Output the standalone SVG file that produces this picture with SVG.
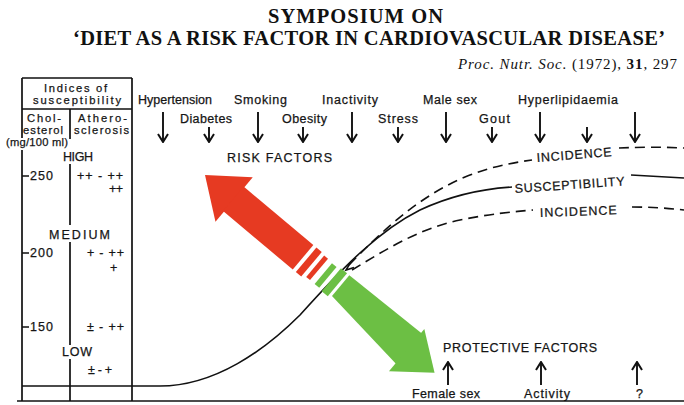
<svg xmlns="http://www.w3.org/2000/svg" width="684" height="405" viewBox="0 0 684 405">
<defs>
<style>
.t{font-family:"Liberation Serif","Times New Roman",serif;fill:#111}
.s{font-family:"Liberation Sans",Arial,sans-serif;fill:#151515;font-size:12.5px;stroke:#151515;stroke-width:0.25}
.k{font-size:11.2px}
.ln{stroke:#111;stroke-width:1.7;fill:none}
.ar{stroke:#111;stroke-width:1.9;fill:none;marker-end:url(#ah)}
.cv{stroke:#111;stroke-width:1.6;fill:none}
.ds{stroke:#111;stroke-width:1.6;fill:none;stroke-dasharray:10 6}
.red{fill:#e63a22}
.grn{fill:#6cbf44}
</style>
<marker id="ah" viewBox="0 0 10 12" refX="9" refY="6" markerWidth="10" markerHeight="12" orient="auto" markerUnits="userSpaceOnUse">
<path d="M1,1 L9,6 L1,11" fill="none" stroke="#111" stroke-width="2"/>
</marker>
</defs>
<rect width="684" height="405" fill="#fff"/>

<g id="title">
<text class="t" x="268" y="23" font-size="20.5" font-weight="bold" textLength="175">SYMPOSIUM ON</text>
<text class="t" x="73" y="45" font-size="20.5" font-weight="bold" textLength="592">‘DIET AS A RISK FACTOR IN CARDIOVASCULAR DISEASE’</text>
<text class="t" x="458" y="69" font-size="15" textLength="219"><tspan font-style="italic">Proc. Nutr. Soc.</tspan> (1972), <tspan font-weight="bold">31</tspan>, 297</text>
</g>

<g id="table">
<path class="ln" d="M22,78 H132 M22,109 H132 M22,78 V138 M22,150 V401 M132,78 V401 M70,109 V139 M70,164 V225 M70,242 V345 M70,359 V401 M22,386 H132 M22,176 H29 M22,253 H29 M22,327 H29"/>
<text class="s k" x="44" y="92" textLength="63">Indices of</text>
<text class="s k" x="33" y="104" textLength="88">susceptibility</text>
<text class="s k" x="27" y="122" textLength="34">Chol-</text>
<text class="s k" x="23" y="134" textLength="40">esterol</text>
<text class="s k" x="78" y="122" textLength="49">Athero-</text>
<text class="s k" x="74" y="134" textLength="55">sclerosis</text>
<text class="s k" x="6" y="146" textLength="62">(mg/100 ml)</text>
<text class="s" x="63" y="161" textLength="30">HIGH</text>
<text class="s" x="30" y="180" textLength="23">250</text>
<text class="s" x="77" y="180" textLength="46">++ - ++</text>
<text class="s" x="109" y="193" textLength="14">++</text>
<text class="s" x="49" y="239" textLength="61">MEDIUM</text>
<text class="s" x="30" y="257" textLength="23">200</text>
<text class="s" x="87" y="257" textLength="37">+ - ++</text>
<text class="s" x="110" y="272">+</text>
<text class="s" x="30" y="331" textLength="23">150</text>
<text class="s" x="87" y="331" textLength="37">± - ++</text>
<text class="s" x="62" y="356" textLength="30">LOW</text>
<text class="s" x="88" y="374" textLength="24">± - +</text>
</g>

<g id="risk-factors">
<text class="s" x="138" y="104" textLength="74">Hypertension</text>
<text class="s" x="234" y="104" textLength="53">Smoking</text>
<text class="s" x="322" y="104" textLength="56">Inactivity</text>
<text class="s" x="423" y="104" textLength="54">Male sex</text>
<text class="s" x="518" y="104" textLength="100">Hyperlipidaemia</text>
<text class="s" x="180" y="123" textLength="52">Diabetes</text>
<text class="s" x="282" y="123" textLength="45">Obesity</text>
<text class="s" x="378" y="123" textLength="40">Stress</text>
<text class="s" x="479" y="123" textLength="31">Gout</text>
<text class="s" x="227" y="162" textLength="105">RISK FACTORS</text>
</g>

<g id="protective-factors">
<text class="s" x="443" y="352" textLength="154">PROTECTIVE FACTORS</text>
<text class="s" x="412" y="398" textLength="68">Female sex</text>
<text class="s" x="524" y="398" textLength="46">Activity</text>
<text class="s" x="636" y="398">?</text>
</g>

<g id="curve-labels">
<text class="s" x="537" y="162" textLength="75" transform="rotate(-4.5 537 162)">INCIDENCE</text>
<text class="s" x="515" y="193" textLength="110" transform="rotate(-4 515 193)">SUSCEPTIBILITY</text>
<text class="s" x="540" y="217" textLength="77" transform="rotate(-2 540 217)">INCIDENCE</text>
</g>

<g id="connectors">
<path class="ar" d="M163,112 V142"/>
<path class="ar" d="M209,127 V142"/>
<path class="ar" d="M258,112 V142"/>
<path class="ar" d="M303,127 V142"/>
<path class="ar" d="M352,112 V142"/>
<path class="ar" d="M398,127 V142"/>
<path class="ar" d="M446,112 V142"/>
<path class="ar" d="M492,127 V142"/>
<path class="ar" d="M540,112 V142"/>
<path class="ar" d="M587,127 V142"/>
<path class="ar" d="M635,112 V142"/>
<path class="ar" d="M448,385 V362"/>
<path class="ar" d="M541,385 V362"/>
<path class="ar" d="M637,385 V362"/>
<path class="cv" d="M132,386 L160,386 C215,386 265,350 300,315 C345,265 380,230 420,210 C450,196 480,189 512,187"/>
<path class="cv" d="M631,175 C650,176 667,177 684,178"/>
<path class="ds" d="M349,265 C385,228 420,196 465,177 C490,167 510,163 532,160"/>
<path class="ds" d="M619,148 C640,147 662,147 684,148"/>
<path class="ds" d="M352,270 C385,250 420,228 460,220 C490,214 510,212 533,210"/>
<path class="ds" d="M632,207 C650,207 667,208 684,210"/>
<polyline points="350.5,262.5 346,270 354,267.5" fill="none" stroke="#111" stroke-width="1.6"/>
<path class="ln" d="M17,401 H684" stroke-width="1.8"/>
</g>

<g id="big-arrows" transform="translate(205,175) rotate(40)">
<polygon class="red" points="0,0 38,-29 38,29"/>
<rect class="red" x="37" y="-16" width="91" height="32"/>
<rect class="red" x="132" y="-16" width="7" height="32"/>
<rect class="red" x="143" y="-15" width="5" height="28"/>
<rect class="grn" x="154" y="-14" width="6" height="27"/>
<rect class="grn" x="164" y="-16" width="8" height="30"/>
<polygon class="grn" points="175,-16 268,-18 268,22 175,11"/>
<polygon class="grn" points="267,-23 267,32 303,4"/>
</g>
</svg>
